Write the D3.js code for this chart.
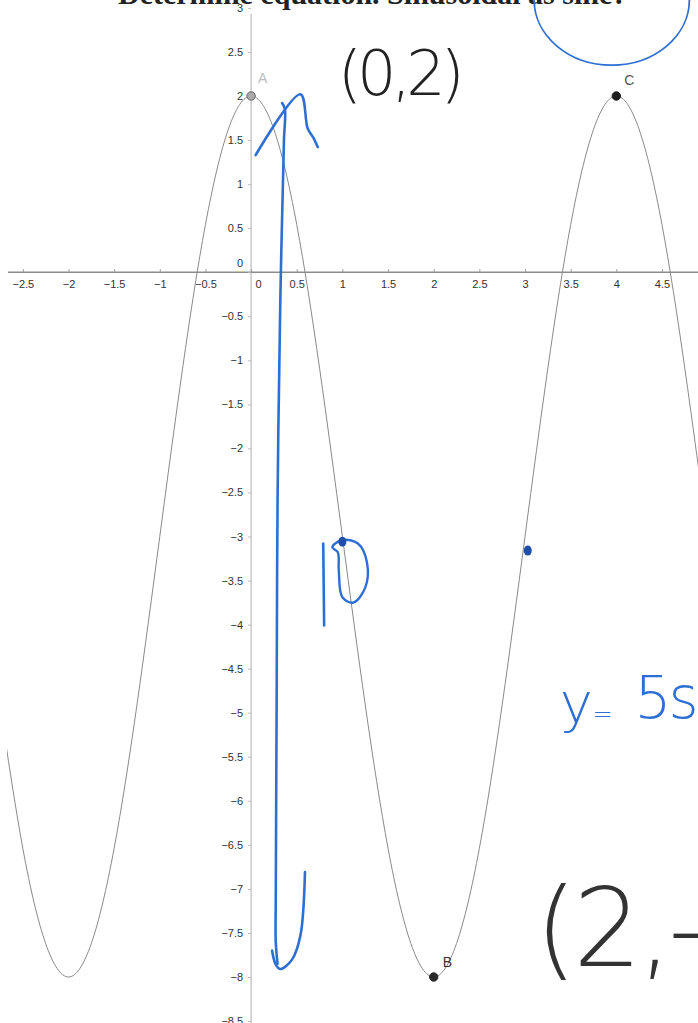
<!DOCTYPE html>
<html>
<head>
<meta charset="utf-8">
<script src="https://cdn.jsdelivr.net/npm/d3@7"></script>
<style>
  body { margin: 0; background: #fff; }
  svg { display: block; }
</style>
</head>
<body>
<div id="graph"></div>
<script>
// curve readings (x, y) off the scanned graph
const curveX = [-2.75, -2.5, -2.25, -2, -1.75, -1.5, -1.25, -1, -0.75, -0.5, -0.25, 0,
                0.25, 0.5, 0.75, 1, 1.25, 1.5, 1.75, 2, 2.25, 2.5, 2.75, 3,
                3.25, 3.5, 3.75, 4, 4.25, 4.5, 4.75, 5];
const curveY = [-4.91, -6.54, -7.62, -8, -7.62, -6.54, -4.91, -3, -1.09, 0.54, 1.62, 2,
                1.62, 0.54, -1.09, -3, -4.91, -6.54, -7.62, -8, -7.62, -6.54, -4.91, -3,
                -1.09, 0.54, 1.62, 2, 1.62, 0.54, -1.09, -3];

// labelled points
const pointNames = ["A", "B", "C"];
const pointX = [0, 2, 4];
const pointY = [2, -8, 2];

// tick labels
const xTicks = [-2.5, -2, -1.5, -1, -0.5, 0, 0.5, 1, 1.5, 2, 2.5, 3, 3.5, 4, 4.5];
const yTicks = [3, 2.5, 2, 1.5, 1, 0.5, 0, -0.5, -1, -1.5, -2, -2.5, -3, -3.5, -4, -4.5,
                -5, -5.5, -6, -6.5, -7, -7.5, -8, -8.5];

// handwritten ink, in graph units
const inkZigzag = [[0.05, 1.33], [0.54, 2.02], [0.62, 1.63], [0.68, 1.53], [0.73, 1.42]];
const inkLong = [[0.34, 1.92], [0.37, 1.85], [0.36, 1.5], [0.32, -0.32], [0.29, -2.59],
                 [0.28, -4.86], [0.27, -7.13], [0.27, -7.6], [0.29, -7.85]];
const inkHook = [[0.23, -7.7], [0.27, -7.86], [0.32, -7.91], [0.45, -7.8], [0.54, -7.53], [0.59, -6.81]];
const inkOne = [[0.79, -3.08], [0.80, -4.01]];
const inkZero = [[0.89, -3.12], [1.0, -3.04], [1.17, -3.08], [1.27, -3.3], [1.25, -3.58],
                 [1.12, -3.75], [1.0, -3.69], [0.96, -3.38], [0.95, -3.18]];
const inkDots = [[1.0, -3.06], [3.03, -3.16]];
const inkNotes = [
  { text: "(0,2)", x: 0.95, y: 2.01, size: 62, spacing: -5, color: "#222" },
  { text: "(2,-", x: 3.11, y: -7.87, size: 108, spacing: -4, color: "#333" },
  { text: "y", x: 3.38, y: -5.1, size: 56, spacing: 0, color: "#2d6fd2" },
  { text: "=", x: 3.74, y: -5.1, size: 24, spacing: 0, color: "#2d6fd2" },
  { text: "5si", x: 4.2, y: -5.06, size: 58, spacing: -3, color: "#2d6fd2" }
];

const width = 698, height = 1023;
const inkBlue = "#2d6fd2";

const svg = d3.select("#graph").append("svg")
    .attr("width", width)
    .attr("height", height);

// scales: roughly 91.3 px per unit across, 88.1 px per unit down
const x = d3.scaleLinear().domain([-2.75, 4.9]).range([0, 698.5]);
const y = d3.scaleLinear().domain([-8, 2]).range([977, 96]);

const fmt = v => (v < 0 ? "\u2212" + Math.abs(v) : "" + v);

// question text cut off at the top of the scan
svg.append("text")
    .attr("x", 118)
    .attr("y", 4)
    .style("font-family", "Liberation Serif, serif")
    .style("font-size", "30px")
    .style("font-weight", "bold")
    .attr("fill", "#222")
    .text("Determine equation. Sinusoidal as sine?");

// y axis line (full height)
svg.append("line")
    .attr("x1", x(0)).attr("x2", x(0))
    .attr("y1", 14).attr("y2", height)
    .attr("stroke", "#c8c8c8")
    .attr("stroke-width", 1.5);

// x axis line
svg.append("line")
    .attr("x1", 8).attr("x2", width)
    .attr("y1", y(0)).attr("y2", y(0))
    .attr("stroke", "#8c8c8c")
    .attr("stroke-width", 1.5);

const xAxis = d3.axisBottom(x)
    .tickValues(xTicks)
    .tickSize(-3)
    .tickPadding(8)
    .tickFormat(fmt);

const gx = svg.append("g")
    .attr("transform", "translate(0," + y(0) + ")")
    .call(xAxis);
gx.select(".domain").remove();
gx.selectAll(".tick line").attr("stroke", "#999");
gx.selectAll("text")
    .style("font-family", "Liberation Sans, Arial, sans-serif")
    .style("font-size", "11px")
    .attr("fill", "#333")
    .attr("dx", d => d === 0 ? 7 : 0);

const yAxis = d3.axisLeft(y)
    .tickValues(yTicks)
    .tickSize(3)
    .tickPadding(5)
    .tickFormat(fmt);

const gy = svg.append("g")
    .attr("transform", "translate(" + x(0) + ",0)")
    .call(yAxis);
gy.select(".domain").remove();
gy.selectAll(".tick line").attr("stroke", "#bbb");
gy.selectAll("text")
    .style("font-family", "Liberation Sans, Arial, sans-serif")
    .style("font-size", "11px")
    .attr("fill", "#333")
    .attr("dy", d => d === 0 ? "-0.5em" : "0.32em");

// the curve
svg.append("clipPath").attr("id", "plotClip")
  .append("rect")
    .attr("x", 7).attr("y", 0)
    .attr("width", width).attr("height", height);

const line = d3.line()
    .x((d, i) => x(curveX[i]))
    .y((d, i) => y(curveY[i]))
    .curve(d3.curveNatural);

svg.append("path")
    .datum(curveX)
    .attr("clip-path", "url(#plotClip)")
    .attr("d", line)
    .attr("fill", "none")
    .attr("stroke", "#8a8a8a")
    .attr("stroke-width", 1);

// points A, B, C
const pointFill = ["#aaa", "#2a2a2a", "#1e1e1e"];
const pointStroke = ["#666", "#2a2a2a", "#1e1e1e"];
const labelColor = ["#bdbdbd", "#333", "#555"];
const labelOffset = [[7, -13], [9, -10], [8, -11]];

svg.selectAll(".pt")
    .data(pointNames)
    .enter().append("circle")
    .attr("class", "pt")
    .attr("cx", (d, i) => x(pointX[i]))
    .attr("cy", (d, i) => y(pointY[i]))
    .attr("r", 4.2)
    .attr("fill", (d, i) => pointFill[i])
    .attr("stroke", (d, i) => pointStroke[i])
    .attr("stroke-width", 1);

svg.selectAll(".ptLabel")
    .data(pointNames)
    .enter().append("text")
    .attr("class", "ptLabel")
    .attr("x", (d, i) => x(pointX[i]) + labelOffset[i][0])
    .attr("y", (d, i) => y(pointY[i]) + labelOffset[i][1])
    .style("font-family", "Liberation Sans, Arial, sans-serif")
    .style("font-size", "14px")
    .attr("fill", (d, i) => labelColor[i])
    .text(d => d);

// handwritten blue ink
const ink = d3.line()
    .x(d => x(d[0]))
    .y(d => y(d[1]))
    .curve(d3.curveCatmullRom);

[inkZigzag, inkLong, inkHook, inkOne].forEach(pts => {
    svg.append("path")
        .attr("d", ink(pts))
        .attr("fill", "none")
        .attr("stroke", inkBlue)
        .attr("stroke-width", 2.6)
        .attr("stroke-linecap", "round")
        .attr("stroke-linejoin", "round");
});

svg.append("path")
    .attr("d", d3.line().x(d => x(d[0])).y(d => y(d[1])).curve(d3.curveCatmullRomClosed)(inkZero))
    .attr("fill", "none")
    .attr("stroke", inkBlue)
    .attr("stroke-width", 2.4);

svg.selectAll(".inkDot")
    .data(inkDots)
    .enter().append("ellipse")
    .attr("class", "inkDot")
    .attr("cx", d => x(d[0]))
    .attr("cy", d => y(d[1]))
    .attr("rx", 4)
    .attr("ry", 5)
    .attr("fill", "#1f4fa8");

// circled answer at top right
svg.append("ellipse")
    .attr("cx", x(3.95))
    .attr("cy", y(3.09))
    .attr("rx", x(0.85) - x(0))
    .attr("ry", y(0) - y(0.74))
    .attr("fill", "none")
    .attr("stroke", inkBlue)
    .attr("stroke-width", 1.8);

// handwritten notes
svg.selectAll(".note")
    .data(inkNotes)
    .enter().append("text")
    .attr("class", "note")
    .attr("x", d => x(d.x))
    .attr("y", d => y(d.y))
    .style("font-family", "DejaVu Sans, sans-serif")
    .style("font-weight", 200)
    .style("font-size", d => d.size + "px")
    .style("letter-spacing", d => d.spacing + "px")
    .attr("fill", d => d.color)
    .text(d => d.text);
</script>
</body>
</html>
